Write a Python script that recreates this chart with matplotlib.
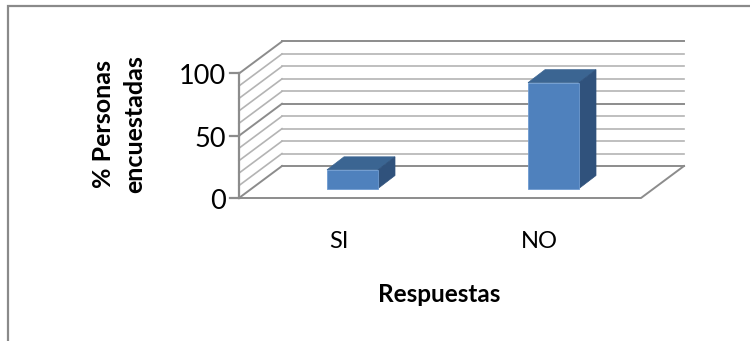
import matplotlib
matplotlib.use('Agg')
import matplotlib.pyplot as plt
from matplotlib.patches import Polygon, Rectangle

plt.rcParams['font.family'] = ['Lato', 'DejaVu Sans']

categories = ['SI', 'NO']
values = [15, 85]
y_ticks = [0, 50, 100]
y_grid = [0, 10, 20, 30, 40, 50, 60, 70, 80, 90, 100]
y_label = '% Personas\nencuestadas'
x_label = 'Respuestas'

W, H = 750, 341
fig = plt.figure(figsize=(W / 100, H / 100), dpi=100)
ax = fig.add_axes([0, 0, 1, 1])
ax.set_xlim(0, W)
ax.set_ylim(H, 0)
ax.axis('off')

# oblique box: front-left corner, floor width, depth shift
x0, y0 = 239, 198
floor_w = 402
dx, dy = 43, -32
px_per_unit = 1.245
bar_w = 51
bar_dx, bar_dy = 17, -13
bar_base = y0 - 9.5
bar_shift = 13


def yp(v):
    return y0 - v * px_per_unit


# outer frame
ax.add_patch(Rectangle((8, 6), 760, 400, fc='white', ec='#8a8a8a', lw=1.6))

# walls
for v in y_grid:
    major = v in y_ticks
    col = '#8c8c8c' if major else '#b4b4b4'
    lw = 1.4 if major else 1.2
    ax.plot([x0, x0 + dx], [yp(v), yp(v) + dy], color=col, lw=lw, zorder=2)
    ax.plot([x0 + dx, x0 + dx + floor_w], [yp(v) + dy, yp(v) + dy], color=col, lw=lw, zorder=2)

# floor
ax.plot([x0, x0 + floor_w, x0 + floor_w + dx], [y0, y0, y0 + dy], color='#8c8c8c', lw=1.4, zorder=2)

# value axis and ticks
ax.plot([x0, x0], [yp(0), yp(100)], color='#8c8c8c', lw=1.6, zorder=3)
for v in y_ticks:
    ax.plot([x0 - 9, x0], [yp(v), yp(v)], color='#8c8c8c', lw=1.6, zorder=3)
    ax.text(x0 - 13, yp(v) + 3.5, str(v), ha='right', va='center', fontsize=19.5, color='black')

# bars, centred in equal category slots
slot = floor_w / len(categories)
for i, (cat, val) in enumerate(zip(categories, values)):
    xc = x0 + slot * (i + 0.5)
    left = xc + bar_shift - bar_w / 2
    right = xc + bar_shift + bar_w / 2
    top = bar_base - val * px_per_unit
    ax.add_patch(Polygon([(left, top), (right, top), (right + bar_dx, top + bar_dy), (left + bar_dx, top + bar_dy)],
                         fc='#3b6592', ec='#3b6592', lw=0.5, zorder=4))
    ax.add_patch(Polygon([(right, top), (right + bar_dx, top + bar_dy), (right + bar_dx, bar_base + bar_dy), (right, bar_base)],
                         fc='#30527c', ec='#30527c', lw=0.5, zorder=4))
    ax.add_patch(Rectangle((left, top), bar_w, bar_base - top, fc='#4f81bd', ec='#6e9bd0', lw=0.6, zorder=5))
    ax.text(xc - 1, 241, cat, ha='center', va='center', fontsize=17, color='black')

ax.text(439, 294, x_label, ha='center', va='center', fontsize=17.5, fontweight='bold', color='black')
ax.text(119, 124.5, y_label, ha='center', va='center', rotation=90, rotation_mode='anchor',
        multialignment='center', fontsize=18, fontweight='bold', color='black', linespacing=1.42)

fig.savefig('out.png', dpi=100)
